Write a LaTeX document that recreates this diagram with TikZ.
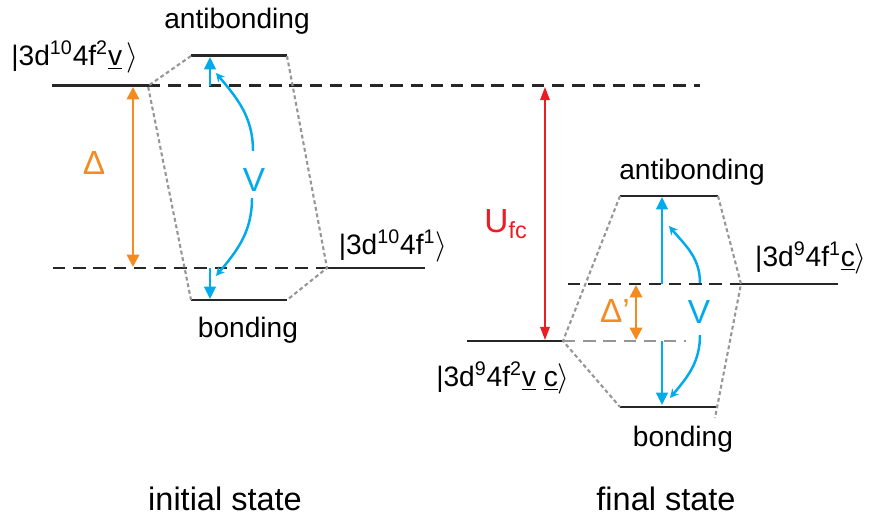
\documentclass[tikz,border=0pt]{standalone}
\usepackage{fontspec}
\setmainfont{Liberation Sans}
\usetikzlibrary{arrows.meta,positioning}
\definecolor{levorange}{RGB}{243,139,32}
\definecolor{levblue}{RGB}{0,170,235}
\definecolor{levred}{RGB}{236,28,36}
\definecolor{levgray}{RGB}{150,150,150}

\begin{document}
\begin{tikzpicture}[x=0.02cm, y=-0.02cm,
  level/.style={line width=1.7pt, black!85},
  dlevel/.style={line width=1.7pt, black!85, dash pattern=on 7pt off 4.5pt},
  glevel/.style={line width=1.7pt, levgray, dash pattern=on 7pt off 4.5pt},
  corr/.style={line width=1.2pt, levgray, dash pattern=on 2.2pt off 1.6pt},
  lbl/.style={font=\fontsize{16}{18}\selectfont, inner sep=0pt},
  sym/.style={font=\fontsize{19}{21}\selectfont, inner sep=0pt},
  ttl/.style={font=\fontsize{18.5}{20}\selectfont, inner sep=0pt},
  hop/.style={-{Triangle[length=7pt,width=6.5pt]}, line width=1.4pt, levblue},
  mix/.style={-{Stealth[length=5pt,width=5pt]}, line width=1.4pt, levblue},
  gap/.style={{Triangle[length=7pt,width=7pt]}-{Triangle[length=7pt,width=7pt]}, line width=1.4pt, levorange},
  ufc/.style={{Triangle[length=7.5pt,width=5.5pt]}-{Triangle[length=7.5pt,width=5.5pt]}, line width=0.7pt, levred}
]
\useasboundingbox (0,0) rectangle (870,516);

% initial state levels
\coordinate (iu0) at (52,86);
\coordinate (iu1) at (148,86);
\coordinate (iu2) at (700,86);
\coordinate (il0) at (53,268);
\coordinate (il1) at (327,268);
\coordinate (il2) at (425,268);
\coordinate (iab0) at (191,56);
\coordinate (iab1) at (287,56);
\coordinate (ib0) at (191,300);
\coordinate (ib1) at (287,300);

\draw[level] (iu0) -- (iu1);
\draw[dlevel] (iu1) -- (iu2);
\draw[dlevel] (il0) -- (il1);
\draw[level] (il1) -- (il2);
\draw[level] (iab0) -- (iab1);
\draw[level] (ib0) -- (ib1);
\draw[corr] (iab0) -- (iu1) -- (ib0);
\draw[corr] (iab1) -- (il1) -- (ib1);

% final state levels
\coordinate (fl0) at (467,341);
\coordinate (fl1) at (563,341);
\coordinate (fl2) at (686,341);
\coordinate (fu0) at (568,284);
\coordinate (fu1) at (741,284);
\coordinate (fu2) at (838,284);
\coordinate (fab0) at (620,196);
\coordinate (fab1) at (718,196);
\coordinate (fb0) at (620,407);
\coordinate (fb1) at (717,407);
\coordinate (fend) at (715,418);

\draw[level] (fl0) -- (fl1);
\draw[glevel] (fl1) -- (fl2);
\draw[dlevel] (fu0) -- (fu1);
\draw[level] (fu1) -- (fu2);
\draw[level] (fab0) -- (fab1);
\draw[level] (fb0) -- (fb1);
\draw[corr] (fab0) -- (fl1) -- (fb0);
\draw[corr] (fab1) -- (fu1) -- (fend);

% arrow ends
\coordinate (dtop) at (133,87);
\coordinate (dbot) at (133,267);
\coordinate (vup0) at (210,86);
\coordinate (vup1) at (210,57);
\coordinate (vdn0) at (210,268);
\coordinate (vdn1) at (210,299);
\coordinate (cup0) at (253,151);
\coordinate (cup1) at (216,73);
\coordinate (cdn0) at (252,198);
\coordinate (cdn1) at (216,276);
\coordinate (utop) at (545,87);
\coordinate (ubot) at (545,340);
\coordinate (ptop) at (636,285);
\coordinate (pbot) at (636,340);
\coordinate (wup0) at (662,284);
\coordinate (wup1) at (662,197);
\coordinate (wdn0) at (662,341);
\coordinate (wdn1) at (662,405);
\coordinate (eup0) at (700,283);
\coordinate (eup1) at (669,226);
\coordinate (edn0) at (700,335);
\coordinate (edn1) at (670,398);

\draw[gap] (dtop) -- (dbot);
\draw[hop] (vup0) -- (vup1);
\draw[hop] (vdn0) -- (vdn1);
\draw[mix] (cup0) to[out=90,in=-50] (cup1);
\draw[mix] (cdn0) to[out=-90,in=50] (cdn1);
\draw[ufc] (utop) -- (ubot);
\draw[gap] (ptop) -- (pbot);
\draw[hop] (wup0) -- (wup1);
\draw[hop] (wdn0) -- (wdn1);
\draw[mix] (eup0) to[out=90,in=-50] (eup1);
\draw[mix] (edn0) to[out=-90,in=50] (edn1);

% labels
\node[lbl] (iab) at (237,21) {antibonding};
\node[lbl] (ib) at (248,330) {bonding};
\node[lbl] (iket2) at (75,57) {|3d\textsuperscript{10}4f\textsuperscript{2}\underline{v}\,$\rangle$};
\node[lbl] (iket1) at (393,246) {|3d\textsuperscript{10}4f\textsuperscript{1}$\rangle$};
\node[sym, text=levorange] (delta) at (94,163) {Δ};
\node[sym, text=levblue] (vi) at (254,180) {V};
\node[lbl] (fab) at (692,172) {antibonding};
\node[lbl] (fb) at (683,439) {bonding};
\node[lbl] (fket1) at (811,258) {|3d\textsuperscript{9}4f\textsuperscript{1}\underline{c}$\rangle$};
\node[lbl] (fket2) at (503,378) {|3d\textsuperscript{9}4f\textsuperscript{2}\underline{v} \underline{c}$\rangle$};
\node[sym, text=levred] (u) at (506,224) {U\textsubscript{fc}};
\node[sym, text=levorange] (deltap) at (615,311) {Δ’};
\node[sym, text=levblue] (vf) at (699,312) {V};
\node[ttl] (ini) at (225,499) {initial state};
\node[ttl] (fin) at (666,499) {final state};
\end{tikzpicture}
\end{document}
